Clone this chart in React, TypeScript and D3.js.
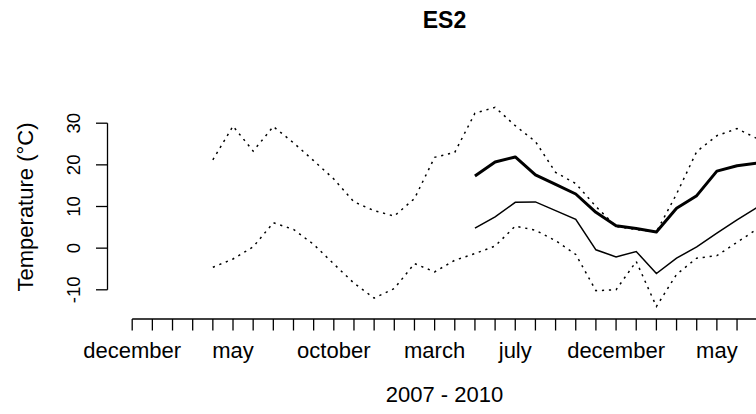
import React from "react";
import * as d3 from "d3";

// month index 0 = december 2006 ... 31 = july 2009
const monthNames = [
  "december", "january", "february", "march", "april", "may", "june", "july",
  "august", "september", "october", "november", "december", "january", "february",
  "march", "april", "may", "june", "july", "august", "september", "october",
  "november", "december", "january", "february", "march", "april", "may", "june", "july",
];
// labels that survive the overlap check of the original axis
const shownLabelIdx = [0, 5, 10, 15, 19, 24, 29];

const extStart = 4;
const upperExt = [
  21.2, 29.3, 23.3, 29.2, 25.3, 21.0, 16.6, 11.1, 9.0, 7.7, 11.9, 21.8, 23.0,
  32.4, 33.8, 29.4, 25.6, 18.2, 15.5, 10.0, 5.2, 4.5, 3.9, 13.0, 23.2, 27.0, 28.7, 26.3,
];
const lowerExt = [
  -4.6, -2.6, 0.3, 6.1, 4.5, 0.9, -3.8, -8.4, -12.0, -9.7, -3.7, -5.7, -2.9,
  -1.3, 0.5, 5.3, 4.3, 1.8, -1.5, -10.2, -10.0, -3.2, -14.0, -6.3, -2.4, -1.8, 1.4, 4.6,
];
const meanStart = 17;
const meanMax = [17.3, 20.7, 21.9, 17.6, 15.3, 13.0, 8.6, 5.4, 4.7, 3.9, 9.6, 12.6, 18.5, 19.8, 20.4];
const meanMin = [4.8, 7.5, 11.0, 11.1, 9.0, 6.9, -0.4, -2.1, -0.8, -6.1, -2.4, 0.3, 3.6, 6.8, 9.8];
const yTicks = [-10, 0, 10, 20, 30];

const W = 756;
const H = 414;
const FONT = "'Liberation Sans', Arial, Helvetica, sans-serif";

export default function App() {
  const x = d3.scaleLinear().domain([0, 31]).range([132.2, 757.2]);
  const y = d3.scaleLinear().domain([-10, 30]).range([289.8, 123.2]);
  const axisY = 319;
  const axisX = 107.5;
  const tickLen = 11.5;
  const plotCenterX = 444.5;
  const plotCenterY = 207;
  const yTickFont = 18.6;
  const xTickFont = 22;
  const labFont = 22;

  const line = d3
    .line<[number, number]>()
    .x((d) => x(d[0]))
    .y((d) => y(d[1]));
  const toPts = (arr: number[], start: number): [number, number][] =>
    arr.map((v, i) => [start + i, v]);

  const ticksX = d3.range(0, monthNames.length);

  return (
    <svg width={W} height={H} style={{ display: "block", position: "absolute", left: 0, top: 0 }}>
      <rect x={0} y={0} width={W} height={H} fill="#ffffff" />
      <text x={plotCenterX} y={28.3} textAnchor="middle" fontFamily={FONT} fontWeight="bold" fontSize={23} fill="#000">
        ES2
      </text>
      {/* series */}
      <path d={line(toPts(upperExt, extStart)) || ""} fill="none" stroke="#000" strokeWidth={1.5} strokeDasharray="2.2,4.8" />
      <path d={line(toPts(lowerExt, extStart)) || ""} fill="none" stroke="#000" strokeWidth={1.5} strokeDasharray="2.2,4.8" />
      <path d={line(toPts(meanMin, meanStart)) || ""} fill="none" stroke="#000" strokeWidth={1.5} />
      <path d={line(toPts(meanMax, meanStart)) || ""} fill="none" stroke="#000" strokeWidth={3} strokeLinejoin="round" />
      {/* x axis */}
      <line x1={x(0)} x2={x(31)} y1={axisY} y2={axisY} stroke="#000" strokeWidth={1.3} />
      {ticksX.map((t) => (
        <line key={t} x1={x(t)} x2={x(t)} y1={axisY} y2={axisY + tickLen} stroke="#000" strokeWidth={1.3} />
      ))}
      {shownLabelIdx.map((t) => (
        <text key={t} x={x(t)} y={358} textAnchor="middle" fontFamily={FONT} fontSize={xTickFont} fill="#000">
          {monthNames[t]}
        </text>
      ))}
      <text x={plotCenterX} y={401.5} textAnchor="middle" fontFamily={FONT} fontSize={labFont} fill="#000">
        2007 - 2010
      </text>
      {/* y axis */}
      <line x1={axisX} x2={axisX} y1={y(-10)} y2={y(30)} stroke="#000" strokeWidth={1.3} />
      {yTicks.map((t) => (
        <g key={t}>
          <line x1={axisX - tickLen} x2={axisX} y1={y(t)} y2={y(t)} stroke="#000" strokeWidth={1.3} />
          <text
            transform={`translate(80,${y(t)}) rotate(-90)`}
            textAnchor="middle"
            fontFamily={FONT}
            fontSize={yTickFont}
            fill="#000"
          >
            {t}
          </text>
        </g>
      ))}
      <text
        transform={`translate(33,${plotCenterY}) rotate(-90)`}
        textAnchor="middle"
        fontFamily={FONT}
        fontSize={labFont}
        fill="#000"
      >
        Temperature (°C)
      </text>
    </svg>
  );
}
